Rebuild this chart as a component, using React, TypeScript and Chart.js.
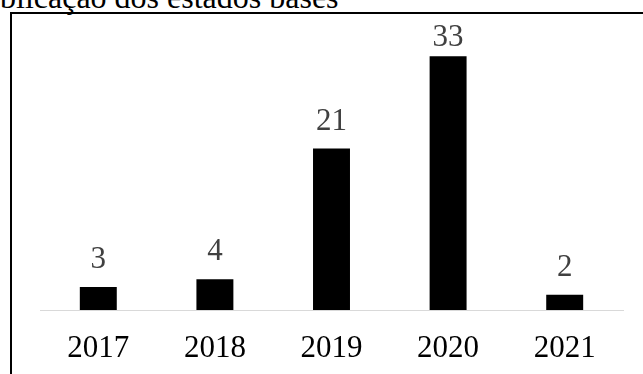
import React, { useEffect, useRef } from "react";
import { Chart, registerables } from "chart.js";

Chart.register(...registerables);

const titleText = "blicação dos estados bases";
const categories = ["2017", "2018", "2019", "2020", "2021"];
const values = [3, 4, 21, 33, 2];
const yMax = 35;

const FONT = "'Liberation Serif', 'Times New Roman', serif";

const labelPlugin = {
  id: "barLabels",
  afterDatasetsDraw(chart: any) {
    const ctx = chart.ctx;
    const meta = chart.getDatasetMeta(0);
    ctx.save();
    ctx.font = `31px ${FONT}`;
    ctx.fillStyle = "#404040";
    ctx.textAlign = "center";
    ctx.textBaseline = "alphabetic";
    meta.data.forEach((bar: any, i: number) => {
      const y = Math.max(bar.y - 19, 46);
      ctx.fillText(String(values[i]), bar.x, y);
    });
    ctx.restore();
  },
};

export default function App() {
  const ref = useRef<HTMLCanvasElement | null>(null);
  useEffect(() => {
    if (!ref.current) return;
    const chart = new Chart(ref.current, {
      type: "bar",
      data: {
        labels: categories,
        datasets: [
          {
            data: values,
            backgroundColor: "#000000",
            borderWidth: 0,
            categoryPercentage: 1,
            barPercentage: 0.317,
          },
        ],
      },
      options: {
        animation: false,
        responsive: false,
        maintainAspectRatio: false,
        layout: { padding: { left: 40, right: 20, top: 41, bottom: 0 } },
        plugins: {
          legend: { display: false },
          tooltip: { enabled: false },
          title: { display: false },
        },
        scales: {
          x: {
            grid: { display: false, drawTicks: false },
            border: { display: true, color: "#d9d9d9", width: 1 },
            ticks: {
              color: "#000000",
              font: { family: FONT, size: 31 },
              padding: 20,
              maxRotation: 0,
            },
            afterFit: (scale: any) => {
              scale.height = 64;
            },
          },
          y: {
            display: false,
            min: 0,
            max: yMax,
          },
        },
      },
      plugins: [labelPlugin],
    });
    return () => chart.destroy();
  }, []);

  return (
    <div
      style={{
        position: "fixed",
        left: 0,
        top: 0,
        width: 643,
        height: 374,
        overflow: "hidden",
        background: "#ffffff",
      }}
    >
      <div
        style={{
          position: "absolute",
          left: 0,
          top: -19,
          fontFamily: FONT,
          fontSize: 32,
          lineHeight: "32px",
          whiteSpace: "nowrap",
          color: "#000000",
        }}
      >
        {titleText}
      </div>
      <div
        style={{
          position: "absolute",
          left: 10,
          top: 12,
          width: 800,
          height: 500,
          border: "2px solid #000000",
        }}
      />
      <canvas
        ref={ref}
        width={643}
        height={374}
        style={{ position: "absolute", left: 0, top: 0, width: 643, height: 374 }}
      />
    </div>
  );
}
